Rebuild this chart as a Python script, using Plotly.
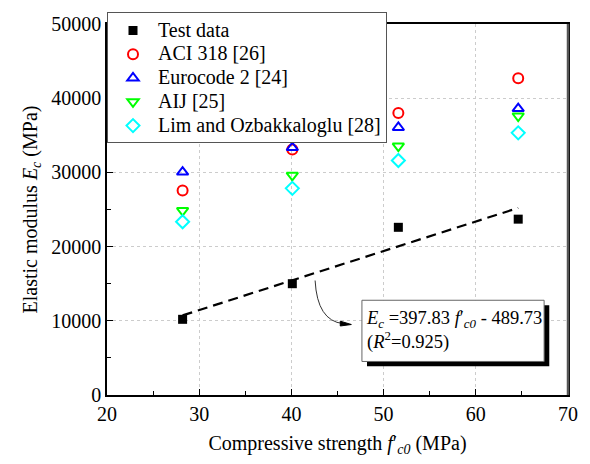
import plotly.graph_objects as go

# ---- data ----
strength = [28.2, 40.1, 51.6, 64.6]
test_data = [10200, 15000, 22600, 23700]
aci_318 = [27570, 33100, 38000, 42700]
eurocode_2 = [30050, 33350, 36050, 38600]
aij = [24850, 29600, 33550, 37600]
lim_ozbakkaloglu = [23350, 27850, 31600, 35330]

fit_slope = 397.83
fit_intercept = -489.73
fit_x = [28.2, 64.6]

x_ticks = [20, 30, 40, 50, 60, 70]
y_ticks = [0, 10000, 20000, 30000, 40000, 50000]

FONT = "Liberation Serif, Times New Roman, serif"

fig = go.Figure()

fig.add_trace(go.Scatter(
    x=fit_x, y=[fit_slope * v + fit_intercept for v in fit_x],
    mode="lines", line=dict(color="black", width=2.2, dash="10px,6px"),
    showlegend=False, hoverinfo="skip"))

series = [
    ("Test data", test_data, "square", "black", True),
    ("ACI 318 [26]", aci_318, "circle-open", "#ff0000", False),
    ("Eurocode 2 [24]", eurocode_2, "triangle-up-open", "#0000ff", False),
    ("AIJ [25]", aij, "triangle-down-open", "#00ff00", False),
    ("Lim and Ozbakkaloglu [28]", lim_ozbakkaloglu, "diamond-open", "#00ffff", False),
]
for name, vals, sym, col, filled in series:
    fig.add_trace(go.Scatter(
        x=strength, y=vals, mode="markers",
        name='<span style="font-size:20px">' + name + '</span>',
        marker=dict(symbol=sym, size=9 if filled else 10, color=col,
                    line=dict(color=col, width=0 if filled else 2))))

# curved arrow from the fit line to the equation box
fig.add_shape(type="path", xref="x", yref="y",
              path="M 42.57,15430 Q 42.8,10000 45.6,9620",
              line=dict(color="#333333", width=1))
fig.add_shape(type="path", xref="x", yref="y",
              path="M 45.3,9950 L 46.5,9500 L 45.3,9300 Z",
              fillcolor="black", line=dict(color="black", width=1))

# equation box with shadow
fig.add_shape(type="rect", xref="x", yref="y",
              x0=48.2, x1=67.97, y0=3860, y1=12100,
              fillcolor="black", line=dict(width=0), layer="above")
fig.add_shape(type="rect", xref="x", yref="y",
              x0=47.65, x1=67.41, y0=4520, y1=12770,
              fillcolor="white", line=dict(color="#666666", width=1), layer="above")
fig.add_annotation(
    x=47.85, y=8650, xref="x", yref="y", xanchor="left", yanchor="middle",
    showarrow=False, align="left",
    text=("<i>E</i><sub><i>c</i></sub> =397.83 <i>f</i>′<sub><i>c0</i></sub> - 489.73"
          "<br>(<i>R</i><sup>2</sup>=0.925)"),
    font=dict(family=FONT, size=18.5, color="black"))

# darker, heavier right frame edge as in the reference
fig.add_shape(type="line", xref="paper", yref="paper", x0=1, x1=1, y0=0, y1=1,
              line=dict(color="#555555", width=2.5), layer="above")

fig.update_layout(
    width=590, height=464,
    margin=dict(l=107, r=20, t=20, b=69),
    paper_bgcolor="white", plot_bgcolor="white",
    font=dict(family=FONT, size=20, color="black"),
    legend=dict(x=0, y=1.031, xanchor="left", yanchor="top",
                bgcolor="white", bordercolor="#555555", borderwidth=1,
                font=dict(family=FONT, size=16), tracegroupgap=0,
                itemsizing="trace", itemwidth=40),
)

fig.update_xaxes(
    range=[20, 70], tickvals=x_ticks, ticks="inside", ticklen=6,
    tickcolor="black", showline=True, linecolor="black", linewidth=1.5,
    mirror=True, showgrid=True, gridcolor="#cccccc", griddash="dot", gridwidth=1,
    zeroline=False, tickfont=dict(size=20),
    minor=dict(dtick=5, ticks="inside", ticklen=4, tickcolor="black", showgrid=False),
    title=dict(text="Compressive strength <i>f</i>′<sub><i>c0</i></sub> (MPa)",
               font=dict(size=20), standoff=12))
fig.update_yaxes(
    range=[0, 50000], tickvals=y_ticks, tickformat="d", ticks="inside", ticklen=6,
    tickcolor="black", showline=True, linecolor="black", linewidth=1.5,
    mirror=True, showgrid=True, gridcolor="#cccccc", griddash="dot", gridwidth=1,
    zeroline=False, tickfont=dict(size=20),
    minor=dict(dtick=5000, ticks="inside", ticklen=4, tickcolor="black", showgrid=False),
    title=dict(text="Elastic modulus <i>E</i><sub><i>c</i></sub> (MPa)",
               font=dict(size=20), standoff=8))

fig.write_html("out.html")
